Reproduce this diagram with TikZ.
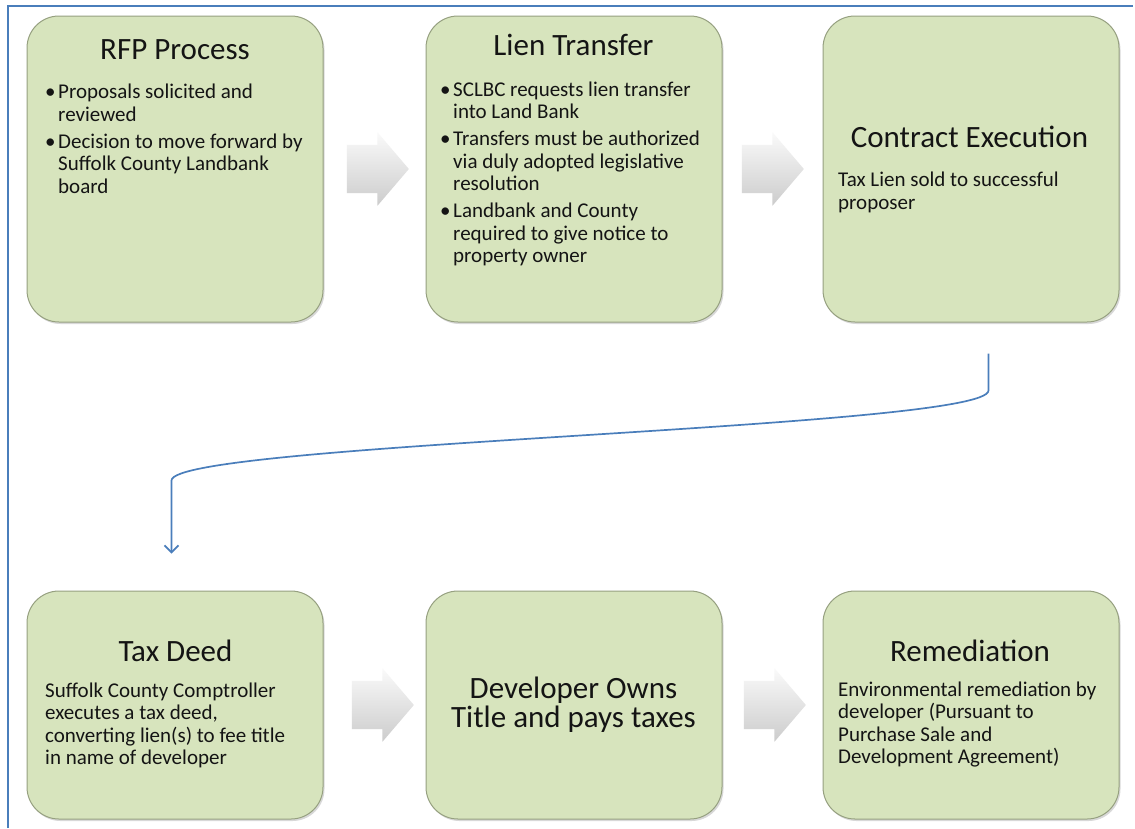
\documentclass[tikz,border=0pt]{standalone}
\usepackage{fontspec}
\setmainfont{Carlito}
\usetikzlibrary{positioning, calc, shapes.arrows, shadows, arrows.meta}

\definecolor{boxgreen}{RGB}{215,228,189}
\definecolor{boxedge}{RGB}{150,160,128}
\definecolor{linkblue}{RGB}{74,126,187}
\definecolor{txt}{RGB}{20,20,20}

\tikzset{
  stagebox/.style={rectangle, rounded corners=32pt, fill=boxgreen, draw=boxedge, line width=1pt,
    minimum width=296pt, drop shadow={shadow xshift=1.5pt, shadow yshift=-2pt, opacity=.3}},
  toprow/.style={stagebox, minimum height=306pt},
  lowrow/.style={stagebox, minimum height=228pt},
  stagetitle/.style={anchor=base, inner sep=0pt, text=txt, font=\fontsize{31}{29}\selectfont, align=center},
  stagebody/.style={anchor=base west, inner sep=0pt, text=txt, font=\fontsize{21}{22.5}\selectfont, align=left},
  procarrow/.style={single arrow, draw=none, inner xsep=0pt, inner ysep=24pt, minimum height=62pt,
    single arrow head extend=12.5pt, single arrow tip angle=99,
    top color=gray!4, bottom color=gray!40},
  linkline/.style={draw=linkblue, line width=1.7pt, -{Straight Barb[length=7pt,width=14pt]}},
}
\newcommand{\bul}{\makebox[13pt][l]{\textbullet}}
\newcommand{\ind}{\hspace*{13pt}}

\begin{document}
\begin{tikzpicture}[x=1pt, y=-1pt]
    \fill[white] (0,0) rectangle (1135,828);
    \useasboundingbox (0,0) rectangle (1135,828);
    \draw[linkblue, line width=1.5pt] (8,828) -- (8,6) -- (1133,6);

    % process boxes
    \node[toprow] (rfp) at (175,169) {};
    \node[toprow, right=102pt of rfp] (lien) {};
    \node[toprow, right=100pt of lien] (contract) {};
    \node[lowrow, below=268pt of rfp] (taxdeed) {};
    \node[lowrow, below=268pt of lien] (owns) {};
    \node[lowrow, below=268pt of contract] (remed) {};

    % grey arrows between boxes
    \node[procarrow, xshift=-7pt] (a1) at ($(rfp.east)!0.5!(lien.west)$) {};
    \node[procarrow, xshift=-10pt] (a2) at ($(lien.east)!0.5!(contract.west)$) {};
    \node[procarrow, xshift=-2pt] (a3) at ($(taxdeed.east)!0.5!(owns.west)$) {};
    \node[procarrow, xshift=-8pt] (a4) at ($(owns.east)!0.5!(remed.west)$) {};

    % texts (base = last line)
    \node[stagetitle] (rfptitle) at (175,59) {RFP Process};
    \node[stagebody] (rfptext) at (45,193) {\bul Proposals solicited and\\ \ind reviewed\\[4.5pt]
        \bul Decision to move forward by\\ \ind Suffolk County Landbank\\ \ind board};
    \node[stagetitle] (lientitle) at (573.5,55) {Lien Transfer};
    \node[stagebody] (lientext) at (440,262.5) {\bul SCLBC requests lien transfer\\ \ind into Land Bank\\[4.5pt]
        \bul Transfers must be authorized\\ \ind via duly adopted legislative\\ \ind resolution\\[4.5pt]
        \bul Landbank and County\\ \ind required to give notice to\\ \ind property owner};
    \node[stagetitle] (contracttitle) at (969.5,147) {Contract Execution};
    \node[stagebody] (contracttext) at (838,209) {Tax Lien sold to successful\\ proposer};
    \node[stagetitle] (taxdeedtitle) at (175.5,661) {Tax Deed};
    \node[stagebody] (taxdeedtext) at (45,764.5) {Suffolk County Comptroller\\ executes a tax deed,\\
        converting lien(s) to fee title\\ in name of developer};
    \node[stagetitle] (ownstitle) at (573.5,727) {Developer Owns\\ Title and pays taxes};
    \node[stagetitle] (remedtitle) at (970,661) {Remediation};
    \node[stagebody] (remedtext) at (838,763.5) {Environmental remediation by\\ developer (Pursuant to\\
        Purchase Sale and\\ Development Agreement)};

    % blue link from the first row down to the second
    \coordinate (linkstart) at ($(contract.south)+(17.5,31)$);
    \coordinate (linkend) at ($(taxdeed.north)+(-3.5,-37)$);
    \draw[linkline] (linkstart) -- ++(0,37) .. controls +(0,38) and +(0,-38) .. ($(linkend)+(0,-73)$) -- (linkend);
\end{tikzpicture}
\end{document}
